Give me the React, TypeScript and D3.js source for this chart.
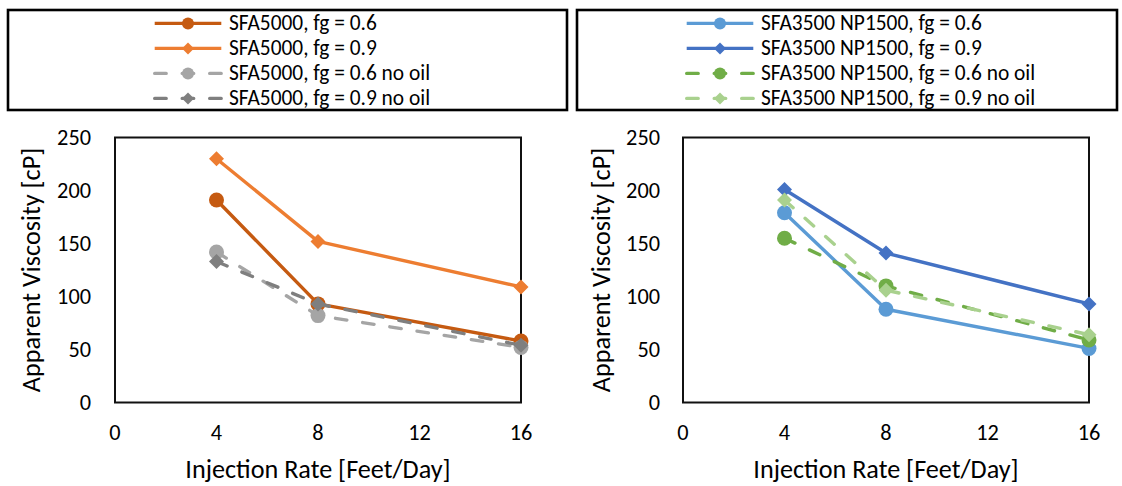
import React from "react";
import * as d3 from "d3";

const xTicks = [0, 4, 8, 12, 16];
const yTicks = [0, 50, 100, 150, 200, 250];
const rates = [4, 8, 16];

const sfa06 = [191, 93, 58];
const sfa09 = [230, 152, 109];
const sfa06NoOil = [142, 82, 52];
const sfa09NoOil = [133, 93, 54];

const np06 = [179, 88, 51];
const np09 = [201, 141, 93];
const np06NoOil = [155, 110, 59];
const np09NoOil = [191, 106, 64];

const leftNames = [
  "SFA5000, fg = 0.6",
  "SFA5000, fg = 0.9",
  "SFA5000, fg = 0.6 no oil",
  "SFA5000, fg = 0.9 no oil",
];
const rightNames = [
  "SFA3500 NP1500, fg = 0.6",
  "SFA3500 NP1500, fg = 0.9",
  "SFA3500 NP1500, fg = 0.6 no oil",
  "SFA3500 NP1500, fg = 0.9 no oil",
];

type Series = {
  name: string;
  values: number[];
  color: string;
  dashed: boolean;
  marker: "circle" | "diamond";
};

const leftSeries: Series[] = [
  { name: leftNames[0], values: sfa06, color: "#C55A11", dashed: false, marker: "circle" },
  { name: leftNames[1], values: sfa09, color: "#ED7D31", dashed: false, marker: "diamond" },
  { name: leftNames[2], values: sfa06NoOil, color: "#A5A5A5", dashed: true, marker: "circle" },
  { name: leftNames[3], values: sfa09NoOil, color: "#7F7F7F", dashed: true, marker: "diamond" },
];
const rightSeries: Series[] = [
  { name: rightNames[0], values: np06, color: "#5B9BD5", dashed: false, marker: "circle" },
  { name: rightNames[1], values: np09, color: "#4472C4", dashed: false, marker: "diamond" },
  { name: rightNames[2], values: np06NoOil, color: "#70AD47", dashed: true, marker: "circle" },
  { name: rightNames[3], values: np09NoOil, color: "#A9D18E", dashed: true, marker: "diamond" },
];

const FONT = "Carlito, Calibri, 'Open Sans', sans-serif";
const DASH = "11.5 16";
const LW = 3.4;

function markerPath(kind: "circle" | "diamond", r: number): string {
  if (kind === "circle") {
    return d3.symbol().type(d3.symbolCircle).size(Math.PI * r * r)() as string;
  }
  const s = r * Math.SQRT2;
  return d3.symbol().type(d3.symbolSquare).size(s * s)() as string;
}

function Legend({ x0, x1, series, lineX0, textX }: { x0: number; x1: number; series: Series[]; lineX0: number; textX: number }) {
  const rowY = d3.scaleLinear().domain([0, 3]).range([23.4, 98.4]);
  const lineLen = 70;
  return (
    <g>
      <rect x={x0} y={10} width={x1 - x0} height={100} fill="#fff" stroke="#000" strokeWidth={2.6} />
      {series.map((s, i) => {
        const cy = rowY(i);
        return (
          <g key={s.name}>
            <line
              x1={lineX0 + LW / 2}
              x2={lineX0 + lineLen - LW / 2}
              y1={cy}
              y2={cy}
              stroke={s.color}
              strokeWidth={LW}
              strokeDasharray={s.dashed ? DASH : undefined}
              strokeLinecap={s.dashed ? "round" : "butt"}
            />
            <path
              d={markerPath(s.marker, 6)}
              transform={`translate(${lineX0 + lineLen / 2},${cy}) rotate(${s.marker === "diamond" ? 45 : 0})`}
              fill={s.color}
            />
            <text x={textX} y={cy + 6.9} fontSize={21.4} fontFamily={FONT} fill="#000">
              {s.name}
            </text>
          </g>
        );
      })}
    </g>
  );
}

function Panel({ left, right, series, titleX, labelRight }: { left: number; right: number; series: Series[]; titleX: number; labelRight: number }) {
  const top = 137.5;
  const bottom = 402.5;
  const x = d3.scaleLinear().domain([0, 16]).range([left, right]);
  const y = d3.scaleLinear().domain([0, 250]).range([bottom, top]);
  const line = d3
    .line<number>()
    .x((_, i) => x(rates[i]))
    .y((v) => y(v));
  return (
    <g>
      <rect x={left} y={top} width={right - left} height={bottom - top} fill="none" stroke="#111" strokeWidth={2} />
      {yTicks.map((t) => (
        <text key={"y" + t} x={labelRight} y={y(t) + 7.2} textAnchor="end" fontSize={22.3} fontFamily={FONT} fill="#000">
          {t}
        </text>
      ))}
      {xTicks.map((t) => (
        <text key={"x" + t} x={x(t)} y={440} textAnchor="middle" fontSize={22.3} fontFamily={FONT} fill="#000">
          {t}
        </text>
      ))}
      <text x={(left + right) / 2} y={478} textAnchor="middle" fontSize={26.2} fontFamily={FONT} fill="#000">
        Injection Rate [Feet/Day]
      </text>
      <text
        transform={`translate(${titleX},${(top + bottom) / 2}) rotate(-90)`}
        textAnchor="middle"
        fontSize={26.2}
        fontFamily={FONT}
        fill="#000"
      >
        Apparent Viscosity [cP]
      </text>
      {series.map((s) => (
        <g key={s.name}>
          <path
            d={line(s.values) as string}
            fill="none"
            stroke={s.color}
            strokeWidth={LW}
            strokeDasharray={s.dashed ? DASH : undefined}
            strokeLinecap={s.dashed ? "round" : "butt"}
            strokeLinejoin="round"
          />
          {s.values.map((v, i) => (
            <path
              key={i}
              d={markerPath(s.marker, 7.5)}
              transform={`translate(${x(rates[i])},${y(v)}) rotate(${s.marker === "diamond" ? 45 : 0})`}
              fill={s.color}
            />
          ))}
        </g>
      ))}
    </g>
  );
}

export default function App() {
  return (
    <svg width={1122} height={486} style={{ position: "absolute", left: 0, top: 0, background: "#fff" }}>
      <rect x={0} y={0} width={1122} height={486} fill="#fff" />
      <Legend x0={8} x1={567} series={leftSeries} lineX0={153} textX={229} />
      <Legend x0={577} x1={1117} series={rightSeries} lineX0={685} textX={761} />
      <Panel left={115} right={521} series={leftSeries} titleX={40} labelRight={91} />
      <Panel left={683} right={1089} series={rightSeries} titleX={610} labelRight={660} />
    </svg>
  );
}
